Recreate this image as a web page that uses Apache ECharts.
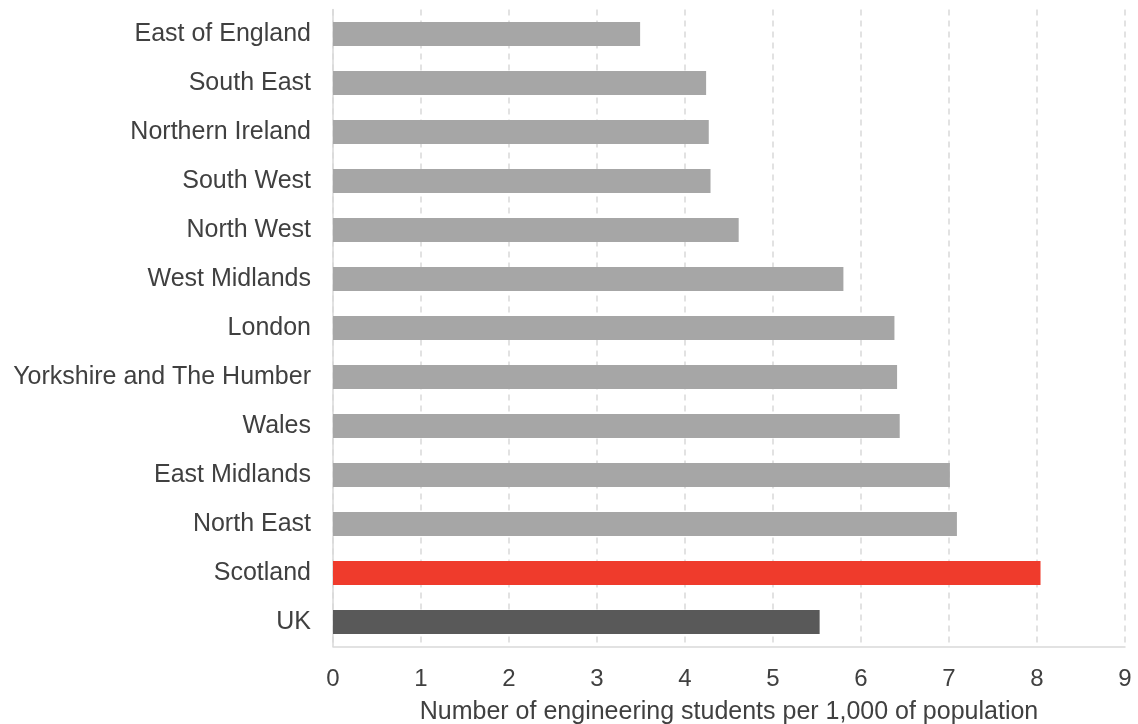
<!DOCTYPE html>
<html>
<head>
<meta charset="utf-8">
<script src="https://cdn.jsdelivr.net/npm/echarts@6/dist/echarts.min.js"></script>
<style>
  html, body { margin: 0; padding: 0; background: #fff; }
  #chart { width: 1138px; height: 724px; }
</style>
</head>
<body>
<div id="chart"></div>
<script>
// Engineering students per 1,000 of population, by UK region
const regions = [
  'East of England', 'South East', 'Northern Ireland', 'South West', 'North West',
  'West Midlands', 'London', 'Yorkshire and The Humber', 'Wales', 'East Midlands',
  'North East', 'Scotland', 'UK'
];
const studentsPer1000 = [
  3.49, 4.24, 4.27, 4.29, 4.61,
  5.80, 6.38, 6.41, 6.44, 7.01,
  7.09, 8.04, 5.53
];
const axisTitle = 'Number of engineering students per 1,000 of population';

const barColours = { 'Scotland': '#ef3b2c', 'UK': '#595959' };
const defaultBar = '#a6a6a6';
const font = 'Liberation Sans, Arial, sans-serif';

const chart = echarts.init(document.getElementById('chart'), null, { renderer: 'canvas' });
chart.setOption({
  animation: false,
  textStyle: { fontFamily: font },
  grid: {
    left: 333, right: 13, top: 9.5, bottom: 77.5,
    containLabel: false,
    outerBoundsMode: 'none'
  },
  xAxis: {
    type: 'value',
    min: 0, max: 9, interval: 1,
    name: axisTitle,
    nameLocation: 'middle',
    nameGap: 53,
    nameTextStyle: { fontSize: 25, color: '#404040', fontFamily: font },
    axisLine: { show: true, lineStyle: { color: '#d9d9d9', width: 1.5 } },
    axisTick: { show: false },
    axisLabel: { fontSize: 24, color: '#404040', margin: 21 },
    splitLine: { show: true, lineStyle: { color: '#d9d9d9', type: [6, 5], width: 1.5 } }
  },
  yAxis: {
    type: 'category',
    inverse: true,
    data: regions,
    axisLine: { show: true, lineStyle: { color: '#d9d9d9', width: 1.5 } },
    axisTick: { show: false },
    axisLabel: { fontSize: 25, color: '#404040', margin: 22 },
    splitLine: { show: false }
  },
  series: [{
    type: 'bar',
    barWidth: 24,
    data: studentsPer1000.map((v, i) => ({
      value: v,
      itemStyle: { color: barColours[regions[i]] || defaultBar }
    }))
  }]
});
</script>
</body>
</html>
